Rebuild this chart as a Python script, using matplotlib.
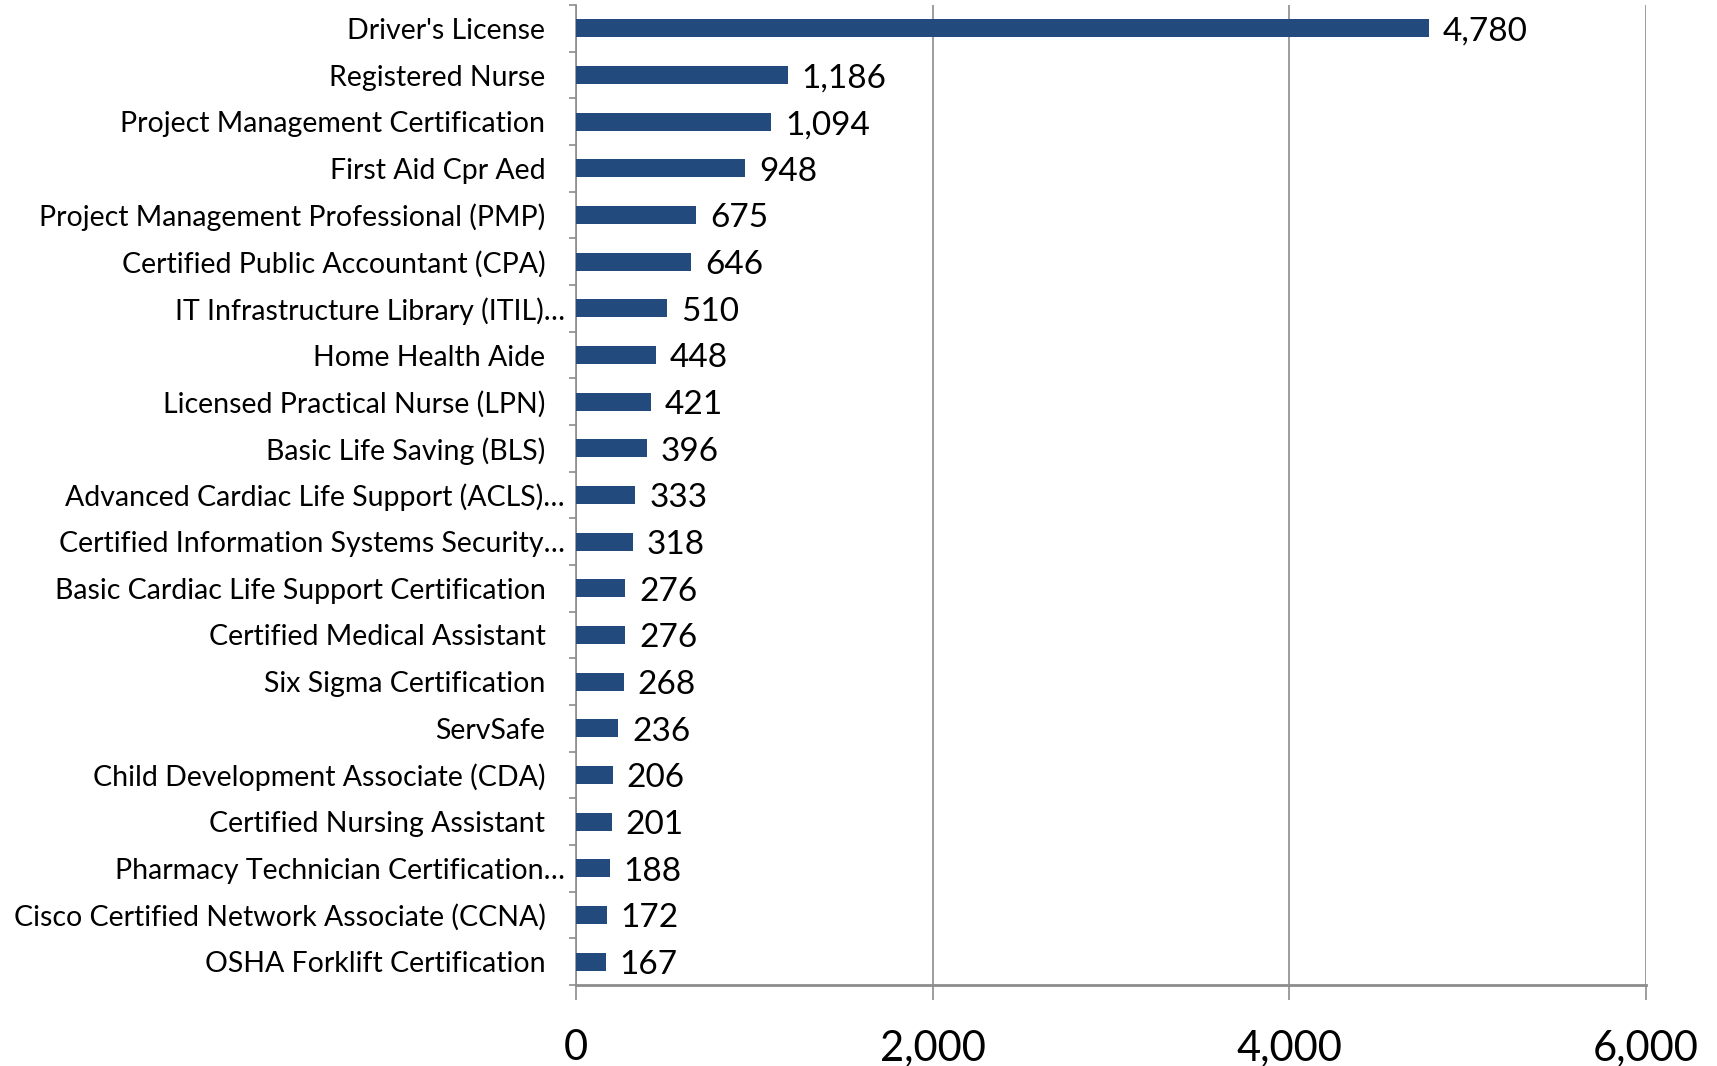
import matplotlib
matplotlib.use("Agg")
import matplotlib.pyplot as plt
from matplotlib.ticker import FuncFormatter, FixedLocator
import matplotlib.transforms as mtransforms
import numpy as np

categories = [
    "Driver's License",
    "Registered Nurse",
    "Project Management Certification",
    "First Aid Cpr Aed",
    "Project Management Professional (PMP)",
    "Certified Public Accountant (CPA)",
    "IT Infrastructure Library (ITIL)\u2026",
    "Home Health Aide",
    "Licensed Practical Nurse (LPN)",
    "Basic Life Saving (BLS)",
    "Advanced Cardiac Life Support (ACLS)\u2026",
    "Certified Information Systems Security\u2026",
    "Basic Cardiac Life Support Certification",
    "Certified Medical Assistant",
    "Six Sigma Certification",
    "ServSafe",
    "Child Development Associate (CDA)",
    "Certified Nursing Assistant",
    "Pharmacy Technician Certification\u2026",
    "Cisco Certified Network Associate (CCNA)",
    "OSHA Forklift Certification",
]
values = [4780, 1186, 1094, 948, 675, 646, 510, 448, 421, 396, 333, 318,
          276, 276, 268, 236, 206, 201, 188, 172, 167]
x_ticks = [0, 2000, 4000, 6000]

FONT = ["Lato", "DejaVu Sans"]
plt.rcParams['font.family'] = FONT

fig = plt.figure(figsize=(17.17, 10.66), dpi=100)
ax = fig.add_axes([0.3355, 0.076, 0.6232, 0.9193])

n = len(categories)
ypos = np.arange(n)
bar_color = "#234A7C"
ax.barh(ypos, values, height=0.39, color=bar_color, zorder=3)
ax.set_ylim(n - 0.5, -0.5)
ax.set_xlim(0, 6000)

for y, v in zip(ypos, values):
    ax.annotate(f"{v:,}", (v, y), xytext=(10, -2.5), textcoords="offset points",
                ha="left", va="center", fontsize=24, color="black")

ax.set_yticks(ypos)
ax.set_yticklabels(categories, fontsize=20.5)
ax.yaxis.set_minor_locator(FixedLocator(np.arange(n + 1) - 0.5))
ax.tick_params(axis="y", which="major", length=0, pad=22)
ax.tick_params(axis="y", which="minor", length=5, color="#8c8c8c", width=1.2, direction="out")

# labels truncated with an ellipsis sit closer to the axis
for lbl in ax.get_yticklabels():
    if lbl.get_text().endswith("\u2026"):
        off = mtransforms.ScaledTranslation(14 / 72, 0, fig.dpi_scale_trans)
        lbl.set_transform(lbl.get_transform() + off)

ax.xaxis.set_major_locator(FixedLocator(x_ticks))
ax.xaxis.set_major_formatter(FuncFormatter(lambda v, p: f"{int(v):,}"))
ax.tick_params(axis="x", which="major", length=11, color="#8c8c8c", width=1.2,
               labelsize=30, pad=21, direction="out")

ax.grid(axis="x", color="#8c8c8c", linewidth=1.2, zorder=0)
ax.set_axisbelow(True)
for s in ["top", "right"]:
    ax.spines[s].set_visible(False)
ax.spines["left"].set_color("#8c8c8c")
ax.spines["left"].set_linewidth(1.2)
ax.spines["bottom"].set_color("#8c8c8c")
ax.spines["bottom"].set_linewidth(2)

fig.savefig("out.png", dpi=100)
